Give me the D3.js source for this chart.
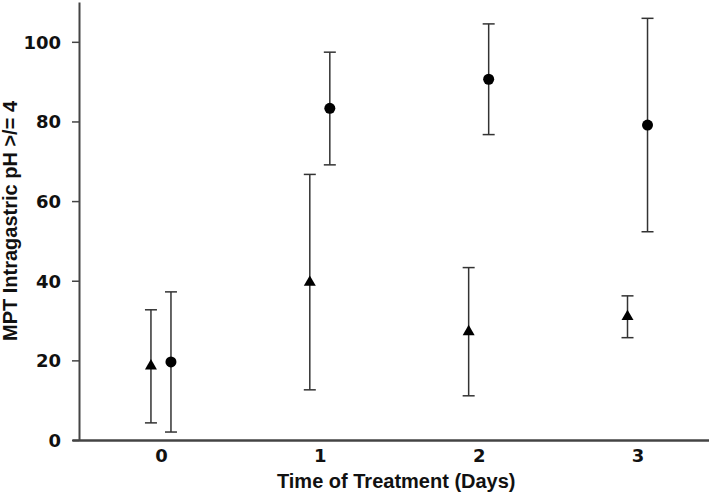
<!DOCTYPE html>
<html lang="en">
<head>
<meta charset="utf-8">
<script src="https://d3js.org/d3.v7.min.js"></script>
<style>
  body { margin: 0; background: #fff; }
  text { font-family: "Liberation Sans", Arial, sans-serif; font-weight: bold; fill: #111; }
</style>
</head>
<body>
<script>
// data
var days = [0, 1, 2, 3];
var yTicks = [0, 20, 40, 60, 80, 100];

// triangle series
var triMean = [18.6, 39.6, 27.2, 31.0];
var triLow  = [4.3, 12.6, 11.1, 25.7];
var triHigh = [32.7, 66.7, 43.3, 36.2];

// circle series
var circMean = [19.6, 83.3, 90.6, 79.1];
var circLow  = [2.0, 69.1, 76.7, 52.3];
var circHigh = [37.2, 97.4, 104.5, 105.9];

var W = 709, H = 496;
var svg = d3.select("body").append("svg")
    .attr("width", W)
    .attr("height", H);

var x = d3.scaleLinear().domain([-0.56, 3.45]).range([72, 709]);
var y = d3.scaleLinear().domain([0, 110]).range([440, 2]);
var shift = 0.063; // side offset of the two series

// y axis
var yAxis = svg.append("g")
    .attr("transform", "translate(79,0)")
    .call(d3.axisLeft(y).tickValues(yTicks).tickSize(7).tickSizeOuter(0).tickPadding(11));
yAxis.select(".domain").attr("stroke", "#444").attr("stroke-width", 2);
yAxis.selectAll(".tick line").attr("stroke", "#444").attr("stroke-width", 1.5);
yAxis.selectAll(".tick text")
    .style("font-size", "18px")
    .style("font-family", "'DejaVu Sans', sans-serif")
    .attr("dy", "0.36em");

// x axis
var xAxis = svg.append("g")
    .attr("transform", "translate(0,440)")
    .call(d3.axisBottom(x).tickValues(days).tickSize(0).tickSizeOuter(0).tickPadding(9).tickFormat(d3.format("d")));
xAxis.select(".domain").attr("stroke", "#444").attr("stroke-width", 2.5);
xAxis.selectAll(".tick text")
    .style("font-size", "18px")
    .style("font-family", "'DejaVu Sans', sans-serif");

// axis titles
svg.append("text")
    .attr("x", (x(0) + x(3)) / 2 - 3)
    .attr("y", 488)
    .attr("text-anchor", "middle")
    .style("font-size", "20px")
    .text("Time of Treatment (Days)");

svg.append("text")
    .attr("transform", "translate(17,221) rotate(-90)")
    .attr("text-anchor", "middle")
    .style("font-size", "20px")
    .text("MPT Intragastric pH >/= 4");

// error bars
function errorBars(mean, low, high, off) {
  var g = svg.append("g").attr("stroke", "#333").attr("stroke-width", 1.5);
  days.forEach(function (d, i) {
    var cx = x(d + off);
    g.append("line").attr("x1", cx).attr("x2", cx).attr("y1", y(low[i])).attr("y2", y(high[i]));
    g.append("line").attr("x1", cx - 6).attr("x2", cx + 6).attr("y1", y(low[i])).attr("y2", y(low[i]));
    g.append("line").attr("x1", cx - 6).attr("x2", cx + 6).attr("y1", y(high[i])).attr("y2", y(high[i]));
  });
}
errorBars(triMean, triLow, triHigh, -shift);
errorBars(circMean, circLow, circHigh, shift);

// markers
svg.selectAll(".tri")
    .data(days)
    .enter().append("path")
    .attr("class", "tri")
    .attr("d", d3.symbol().type(d3.symbolTriangle).size(62))
    .attr("transform", function (d, i) { return "translate(" + x(d - shift) + "," + y(triMean[i]) + ")"; })
    .attr("fill", "#000");

svg.selectAll(".dot")
    .data(days)
    .enter().append("circle")
    .attr("class", "dot")
    .attr("cx", function (d) { return x(d + shift); })
    .attr("cy", function (d, i) { return y(circMean[i]); })
    .attr("r", 5.5)
    .attr("fill", "#000");
</script>
</body>
</html>
